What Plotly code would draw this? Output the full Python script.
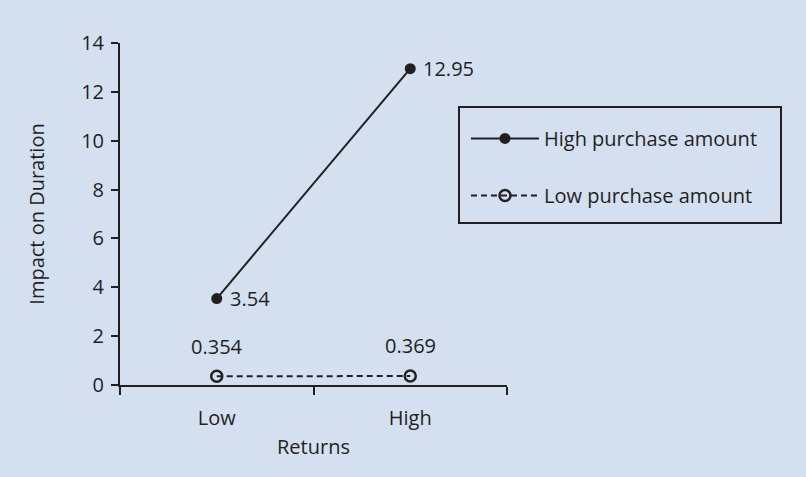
import plotly.graph_objects as go

categories = ["Low", "High"]
high_purchase = [3.54, 12.95]
low_purchase = [0.354, 0.369]
high_labels = ["3.54", "12.95"]
low_labels = ["0.354", "0.369"]
y_ticks = [0, 2, 4, 6, 8, 10, 12, 14]

BG = "#d4dff0"
INK = "#231f20"
FONT = "Open Sans"
FS = 20

fig = go.Figure()
fig.add_trace(go.Scatter(
    x=categories, y=high_purchase, name="High purchase amount",
    mode="lines+markers", legendgroup="a",
    line=dict(color=INK, width=2),
    marker=dict(symbol="circle", size=11, color=INK),
))
fig.add_trace(go.Scatter(
    x=categories, y=low_purchase, name="Low purchase amount",
    mode="lines+markers", legendgroup="b",
    line=dict(color=INK, width=2, dash="6px,4px"),
    marker=dict(symbol="circle-open", size=11, color=INK, line=dict(width=2.5, color=INK)),
))

for c, v, t in zip(categories, high_purchase, high_labels):
    fig.add_annotation(x=c, y=v, text=t, showarrow=False, xanchor="left",
                       xshift=11, yshift=0, font=dict(size=FS, color=INK, family=FONT))
for c, v, t in zip(categories, low_purchase, low_labels):
    fig.add_annotation(x=c, y=v, text=t, showarrow=False, yanchor="middle",
                       yshift=30, font=dict(size=FS, color=INK, family=FONT))

# legend frame
fig.add_shape(type="rect", xref="paper", yref="paper",
              x0=0.876, x1=1.708, y0=0.4737, y1=0.8129,
              line=dict(color=INK, width=2), fillcolor="rgba(0,0,0,0)", layer="below")

fig.update_layout(
    width=806, height=477,
    paper_bgcolor=BG, plot_bgcolor=BG,
    margin=dict(l=120, r=299, t=43, b=92),
    font=dict(family=FONT, size=FS, color=INK),
    showlegend=True,
    legend=dict(
        x=0.894, y=0.778, xanchor="left", yanchor="top",
        bgcolor="rgba(0,0,0,0)", borderwidth=0,
        font=dict(size=FS, family=FONT, color=INK),
        tracegroupgap=28, traceorder="grouped",
        itemwidth=68,
    ),
    xaxis=dict(
        type="category", range=[-0.5, 1.5], tickson="boundaries",
        showline=True, linecolor=INK, linewidth=2,
        ticks="outside", ticklen=8, tickwidth=2, tickcolor=INK,
        ticklabelstandoff=14,
        showgrid=False, zeroline=False,
        title=dict(text="Returns", standoff=10, font=dict(size=FS)),
    ),
    yaxis=dict(
        range=[0, 14], tickvals=y_ticks,
        showline=True, linecolor=INK, linewidth=2,
        ticks="outside", ticklen=7, tickwidth=2, tickcolor=INK,
        ticklabelstandoff=3,
        showgrid=False, zeroline=False,
        title=dict(text="Impact on Duration", standoff=31, font=dict(size=FS)),
    ),
)

fig.write_html("out.html", config={"displayModeBar": False},
               post_script="document.body.style.margin='0';")
